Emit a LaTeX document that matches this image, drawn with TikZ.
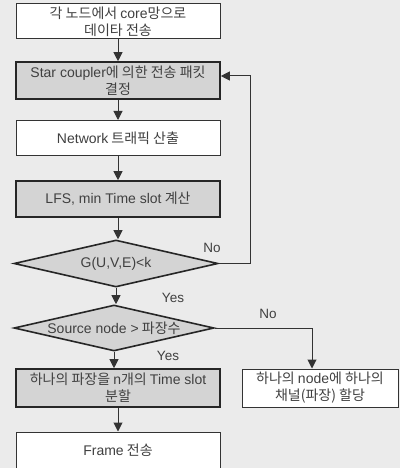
\documentclass[tikz,border=0pt]{standalone}
\usepackage{fontspec}
\setmainfont{Noto Sans CJK KR}
\newfontfamily\latfont{Liberation Sans}
\newcommand\latn[1]{{\latfont #1}}
\usetikzlibrary{arrows.meta,shapes.geometric}
\begin{document}
\begin{tikzpicture}[x=1pt,y=-1pt,
  font=\fontsize{14}{17}\selectfont,
  every node/.style={text=black!75},
  wbox/.style={draw=black!80, line width=1pt, fill=white, minimum width=204pt, align=center, inner sep=0pt},
  gbox/.style={draw=black!85, line width=1.6pt, fill=black!17, minimum width=204pt, align=center, inner sep=0pt},
  dia/.style={draw=black!85, line width=1.6pt, fill=black!17, diamond, aspect=4.4, inner sep=0pt, minimum width=204pt, minimum height=47pt},
  arr/.style={draw=black!80, line width=1pt, -{Triangle[length=9pt,width=9pt]}},
  lbl/.style={text=black!75, font=\fontsize{13.5}{15}\latfont}
]
\fill[black!8] (0,0) rectangle (400,468);
\useasboundingbox (0,0) rectangle (400,468);

\node[wbox, minimum height=35pt] (b1) at (118,21.5) {각 노드에서 \latn{core}망으로\\데이타 전송};
\node[gbox, minimum height=37pt] (b2) at (118,80.5) {\latn{Star coupler}에 의한 전송 패킷\\결정};
\node[wbox, minimum height=35pt] (b3) at (118,138) {\latn{Network} 트래픽 산출};
\node[gbox, minimum height=36pt] (b4) at (118,199) {\latn{LFS, min Time slot} 계산};
\node[dia] (d1) at (116,263.5) {\latn{G(U,V,E)<k}};
\node[dia, minimum width=200pt, minimum height=46pt] (d2) at (114,328) {\latn{Source node >} 파장수};
\node[gbox, minimum height=38pt] (b5) at (118,388) {하나의 파장을 \latn{n}개의 \latn{Time slot}\\분할};
\node[wbox, minimum width=156pt, minimum height=38pt] (b6) at (320,388) {하나의 \latn{node}에 하나의\\채널(파장) 할당};
\node[wbox, minimum height=36pt] (b7) at (118,450) {\latn{Frame} 전송};

\coordinate (c1) at (250,263.5);
\coordinate (c2) at (250,76);
\coordinate (c3) at (312,328);

\draw[arr] (b1.south) -- (b2.north);
\draw[arr] (b2.south) -- (b3.north);
\draw[arr] (b3.south) -- (b4.north);
\draw[arr] (b4.south) -- (b4.south |- d1.north);
\draw[arr] (d1.east) -- (c1) -- (c2) -- (b2.east |- c2);
\draw[arr] (d1.south) -- (d1.south |- d2.north);
\draw[arr] (d2.east) -- (c3) -- (c3 |- b6.north);
\draw[arr] (d2.south) -- (d2.south |- b5.north);
\draw[arr] (b5.south) -- (b7.north);

\node[lbl] (no1) at (212,248) {No};
\node[lbl] (yes1) at (173,298) {Yes};
\node[lbl] (no2) at (268,314) {No};
\node[lbl] (yes2) at (168,356) {Yes};
\end{tikzpicture}
\end{document}
